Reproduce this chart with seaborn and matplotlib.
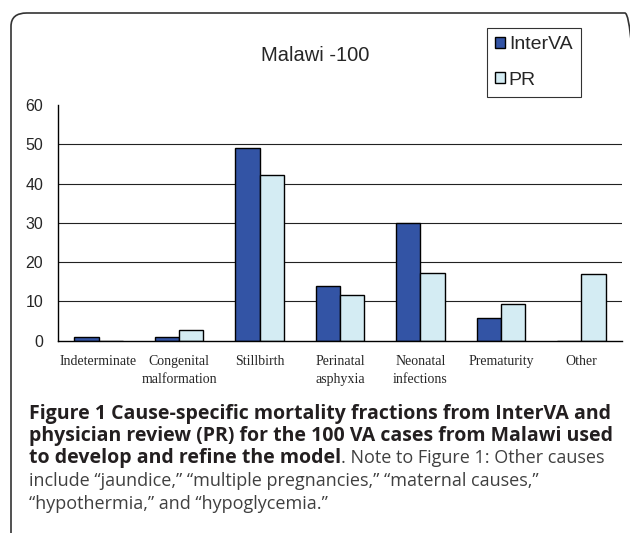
import matplotlib
matplotlib.use('Agg')
import matplotlib.pyplot as plt
import seaborn as sns
import pandas as pd
import numpy as np
from matplotlib.patches import FancyBboxPatch

# du lieu doc tu hinh
causes = ['Indeterminate', 'Congenital\nmalformation', 'Stillbirth', 'Perinatal\nasphyxia',
          'Neonatal\ninfections', 'Prematurity', 'Other']
interva = [1, 1, 49, 14, 30, 5.8, 0]
pr = [0, 2.8, 42.2, 11.6, 17.3, 9.4, 17.0]
series = ['InterVA', 'PR']
colors = ['#3354a5', '#d4ecf3']
yticks = [0, 10, 20, 30, 40, 50, 60]

caption_bold = ['Figure 1 Cause-specific mortality fractions from InterVA and',
                'physician review (PR) for the 100 VA cases from Malawi used',
                'to develop and refine the model']
caption_rest = ['. Note to Figure 1: Other causes',
                'include \u201cjaundice,\u201d \u201cmultiple pregnancies,\u201d \u201cmaternal causes,\u201d',
                '\u201chypothermia,\u201d and \u201chypoglycemia.\u201d']


def build_df():
    df = pd.DataFrame({'cause': causes * 2,
                       'value': interva + pr,
                       'source': [series[0]] * len(causes) + [series[1]] * len(causes)})
    return df


def plot_chart(df):
    sns.set_style('white')
    plt.rcParams['font.family'] = ['Liberation Sans', 'DejaVu Sans']
    W, H = 630, 533
    fig = plt.figure(figsize=(6.3, 5.33), dpi=100)
    ax = fig.add_axes([58.3 / W, 1 - 340.7 / H, (621.7 - 58.3) / W, (340.7 - 105) / H])

    sns.barplot(data=df, x='cause', y='value', hue='source', palette=colors, width=0.6,
                edgecolor='black', linewidth=1.0, saturation=1, ax=ax, legend=False)

    ax.set_xlim(-0.5, 6.5)
    ax.set_ylim(0, 60)
    ax.set_xlabel('')
    ax.set_ylabel('')
    ax.set_yticks(yticks)
    ax.set_yticklabels([str(v) for v in yticks], fontsize=11.5)
    # vach chia o ranh gioi, nhan o giua
    ax.set_xticks(np.arange(-0.5, 7, 1))
    ax.set_xticklabels([''] * 8)
    ax.set_xticks(np.arange(7), minor=True)
    ax.set_xticklabels(causes, minor=True, fontsize=10, family='Liberation Serif',
                       linespacing=1.5)
    ax.tick_params(axis='x', which='major', direction='out', length=5, width=1, color='black')
    ax.tick_params(axis='x', which='minor', length=0, pad=10)
    ax.tick_params(axis='y', direction='out', length=5, width=1, color='black', pad=6)
    ax.set_axisbelow(True)
    for v in yticks[1:-1]:
        ax.axhline(v, color='#222222', linewidth=0.8, zorder=0)
    for s in ['top', 'right']:
        ax.spines[s].set_visible(False)
    for s in ['left', 'bottom']:
        ax.spines[s].set_color('black')
        ax.spines[s].set_linewidth(1.0)

    fig.text(315 / W, 1 - 61 / H, 'Malawi -100', ha='center', va='baseline', fontsize=14.5)

    handles = [plt.Rectangle((0, 0), 1, 1, facecolor=c, edgecolor='black', linewidth=1.0)
               for c in colors]
    leg = fig.legend(handles, series, loc='upper left', bbox_to_anchor=(487 / W, 1 - 28 / H),
                     fontsize=14, frameon=True, fancybox=False, edgecolor='black',
                     handlelength=0.5, handleheight=0.5, handletextpad=0.2,
                     labelspacing=0.95, borderpad=0.42, borderaxespad=0)
    leg.get_frame().set_linewidth(0.8)

    # khung bo tron quanh hinh
    box = FancyBboxPatch((11 / W, -0.1), (630 - 13) / W + 0.02, 1 - 13 / H + 0.1,
                         boxstyle='round,pad=0,rounding_size=0.025', transform=fig.transFigure,
                         facecolor='none', edgecolor='#333333', linewidth=1.2, clip_on=False)
    fig.add_artist(box)

    # chu thich
    baselines = [419, 441, 463, 486, 509]
    cap_font = 'Open Sans'
    bold_size = 14
    reg_size = 13
    fig.canvas.draw()
    renderer = fig.canvas.get_renderer()
    for i, line in enumerate(caption_bold):
        t = fig.text(29 / W, 1 - baselines[i] / H, line, ha='left', va='baseline',
                     fontsize=bold_size, fontweight='bold', family=cap_font, color='#231f20')
        if i == 2:
            bb = t.get_window_extent(renderer)
            fig.text(bb.x1 / W, 1 - baselines[i] / H, caption_rest[0], ha='left',
                     va='baseline', fontsize=reg_size, family=cap_font, color='#404040')
    for j, line in enumerate(caption_rest[1:]):
        fig.text(29 / W, 1 - baselines[3 + j] / H, line, ha='left', va='baseline',
                 fontsize=reg_size, family=cap_font, color='#404040')

    plt.savefig('out.png', dpi=100)


def main():
    df = build_df()
    plot_chart(df)


if __name__ == '__main__':
    main()
